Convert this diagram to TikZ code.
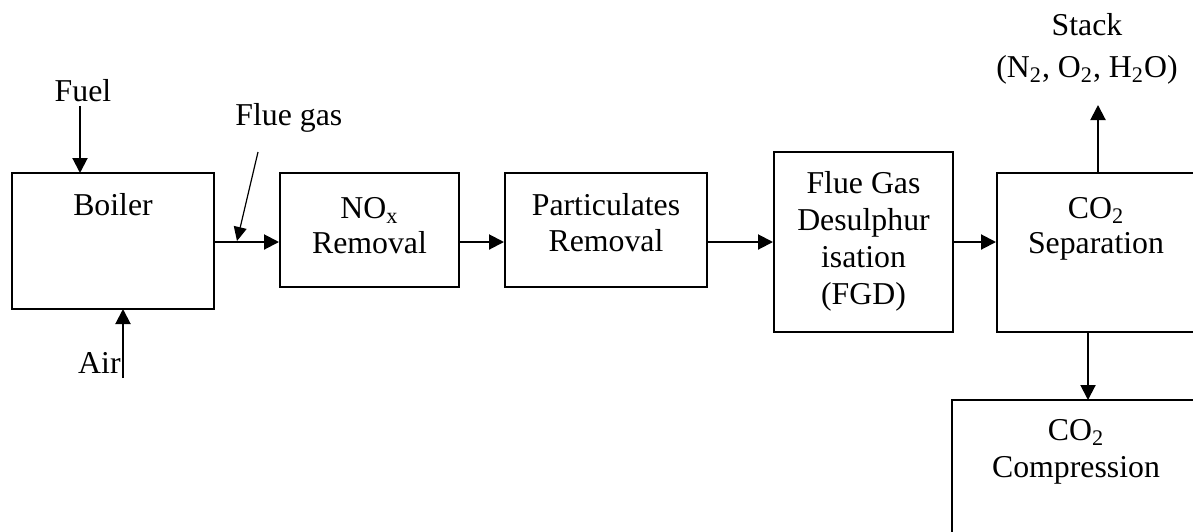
\documentclass[tikz,border=0pt]{standalone}
\usepackage{fontspec}
\setmainfont{Liberation Serif}
\usetikzlibrary{arrows.meta}
\begin{document}
\begin{tikzpicture}[x=0.5pt,y=-0.5pt,
  box/.style={draw,line width=1pt,rectangle,inner sep=0pt},
  txt/.style={inner sep=0pt,anchor=base,align=center,font=\fontsize{15.9}{18.4}\selectfont},
  flow/.style={line width=1pt,-{Triangle[length=7.5pt,width=7.5pt]}},
  thin/.style={line width=0.6pt,-{Triangle[length=7pt,width=6.5pt]}}]
\clip (0,0) rectangle (1193,531);
\useasboundingbox (0,0) rectangle (1193,531);
% boxes
\node[box,minimum width=101pt,minimum height=68pt] (boiler) at (113,241) {};
\node[box,minimum width=89.5pt,minimum height=57pt] (nox) at (369.5,230) {};
\node[box,minimum width=101pt,minimum height=57pt] (part) at (606,230) {};
\node[box,minimum width=89.5pt,minimum height=90pt] (fgd) at (863.5,242) {};
\node[box,minimum width=100pt,minimum height=79.5pt] (sep) at (1097,252.5) {};
\node[box,minimum width=124pt,minimum height=80pt] (comp) at (1076,480) {};
% texts
\node[txt] (tboiler) at (113,215) {Boiler};
\node[txt] (tnox1) at (369.5,218) {NO\textsubscript{x}};
\node[txt] (tnox2) at (369.5,253) {Removal};
\node[txt] (tpart1) at (606,215) {Particulates};
\node[txt] (tpart2) at (606,251) {Removal};
\node[txt] (tfgd1) at (863.5,193) {Flue Gas};
\node[txt] (tfgd2) at (863.5,230) {Desulphur};
\node[txt] (tfgd3) at (863.5,267) {isation};
\node[txt] (tfgd4) at (863.5,304) {(FGD)};
\node[txt] (tsep1) at (1096,218) {CO\textsubscript{2}};
\node[txt] (tsep2) at (1096,253) {Separation};
\node[txt] (tcomp1) at (1076,440) {CO\textsubscript{2}};
\node[txt] (tcomp2) at (1076,477) {Compression};
\node[txt] (fuel) at (83,101) {Fuel};
\node[txt,anchor=base east] (air) at (121,373) {Air};
\node[txt,anchor=base west] (flue) at (235,125) {Flue gas};
\node[txt] (stack1) at (1087,35) {Stack};
\node[txt] (stack2) at (1087,77) {(N\textsubscript{2}, O\textsubscript{2}, H\textsubscript{2}O)};
% connector anchors
\coordinate (fuelS) at (80,106);
\coordinate (fuelE) at (80,173);
\coordinate (airS) at (123,378);
\coordinate (airE) at (123,309);
\coordinate (diagS) at (258,152);
\coordinate (diagE) at (237,241);
\coordinate (stackS) at (1098,173);
\coordinate (stackE) at (1098,105);
\coordinate (downS) at (1088,332);
\coordinate (downE) at (1088,400);
% connectors
\draw[flow] (fuelS) -- (fuelE);
\draw[flow] (airS) -- (airE);
\draw[flow] (boiler.east |- 0,242) -- (nox.west |- 0,242);
\draw[thin] (diagS) -- (diagE);
\draw[flow] (nox.east |- 0,242) -- (part.west |- 0,242);
\draw[flow] (part.east |- 0,242) -- (fgd.west |- 0,242);
\draw[flow] (fgd.east |- 0,242) -- (sep.west |- 0,242);
\draw[flow] (stackS) -- (stackE);
\draw[flow] (downS) -- (downE);
\end{tikzpicture}
\end{document}
